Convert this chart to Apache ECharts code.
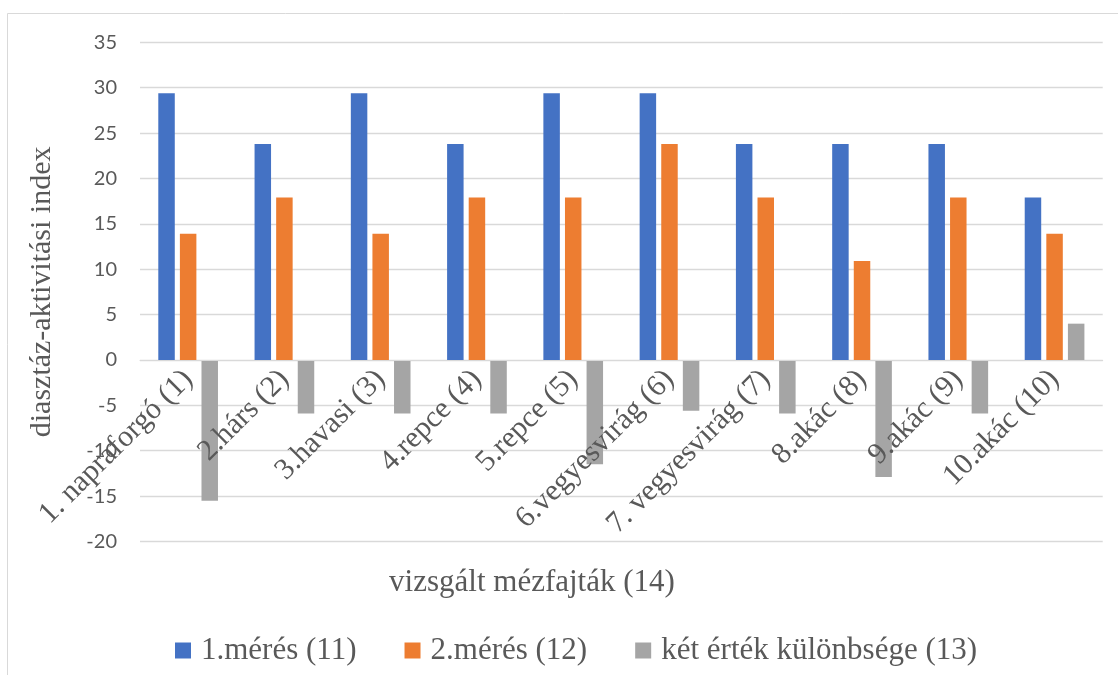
<!DOCTYPE html>
<html>
<head>
<meta charset="utf-8">
<script src="https://cdn.jsdelivr.net/npm/echarts@6/dist/echarts.min.js"></script>
<style>
  html, body { margin: 0; padding: 0; background: #ffffff; }
  #chart { width: 1118px; height: 675px; }
</style>
</head>
<body>
<div id="chart"></div>
<script>
// Honey samples examined
const categories = [
  '1. napraforgó (1)', '2.hárs (2)', '3.havasi (3)', '4.repce (4)', '5.repce (5)',
  '6.vegyesvirág (6)', '7. vegyesvirág (7)', '8.akác (8)', '9.akác (9)', '10.akác (10)'
];
// Diastase activity, first measurement
const meres1 = [29.4, 23.8, 29.4, 23.8, 29.4, 29.4, 23.8, 23.8, 23.8, 17.9];
// Diastase activity, second measurement
const meres2 = [13.9, 17.9, 13.9, 17.9, 17.9, 23.8, 17.9, 10.9, 17.9, 13.9];
// Difference between the two values
const kulonbseg = [-15.5, -5.9, -5.9, -5.9, -11.5, -5.6, -5.9, -12.9, -5.9, 4.0];

const seriesNames = ['1.mérés (11)', '2.mérés (12)', 'két érték különbsége (13)'];
const xAxisTitle = 'vizsgált mézfajták (14)';
const yAxisTitle = 'diasztáz-aktivitási index';

const textGray = '#595959';
const gridGray = '#d9d9d9';
const serif = '"Liberation Serif", "Times New Roman", serif';

// Plot area and value range
const CHART_H = 675;
const gridBox = { left: 140, right: 15.3, top: 42.3, bottom: 133.5 };
const yMin = -20, yMax = 35, yStep = 5;
// Category axis sits on the zero line, labels included
const plotH = CHART_H - gridBox.top - gridBox.bottom;
const zeroOffset = -(0 - yMin) / (yMax - yMin) * plotH;

const chart = echarts.init(document.getElementById('chart'), null, { renderer: 'canvas' });

chart.setOption({
  animation: false,
  backgroundColor: '#ffffff',
  color: ['#4472C4', '#ED7D31', '#A5A5A5'],
  graphic: [
    {
      type: 'rect',
      silent: true,
      shape: { x: 7.5, y: 13.5, width: 1300, height: 900 },
      style: { fill: 'none', stroke: gridGray, lineWidth: 1 }
    },
    {
      type: 'text',
      silent: true,
      x: 532,
      y: 583,
      style: {
        text: xAxisTitle,
        font: '31px ' + serif,
        fill: textGray,
        textAlign: 'center',
        textVerticalAlign: 'middle'
      }
    }
  ],
  grid: Object.assign({ outerBoundsMode: 'none', containLabel: false }, gridBox),
  legend: {
    data: seriesNames,
    left: 170,
    top: 630,
    icon: 'rect',
    itemWidth: 16,
    itemHeight: 16,
    itemGap: 48,
    textStyle: { fontFamily: serif, fontSize: 31, color: textGray, padding: [0, 0, 0, 5] }
  },
  xAxis: {
    type: 'category',
    data: categories,
    z: 10,
    position: 'bottom',
    offset: zeroOffset,
    axisLine: { onZero: false, lineStyle: { color: gridGray, width: 1 } },
    axisTick: { show: false },
    axisLabel: {
      rotate: 45,
      interval: 0,
      margin: 15,
      fontFamily: serif,
      fontSize: 30,
      color: textGray
    },
    splitLine: { show: false }
  },
  yAxis: {
    type: 'value',
    min: yMin,
    max: yMax,
    interval: yStep,
    name: yAxisTitle,
    nameLocation: 'middle',
    nameGap: 83,
    nameTextStyle: { fontFamily: serif, fontSize: 30, color: textGray },
    axisLine: { show: false },
    axisTick: { show: false },
    axisLabel: {
      margin: 23,
      fontFamily: 'Lato, "Liberation Sans", sans-serif',
      fontSize: 20,
      color: textGray
    },
    splitLine: { lineStyle: { color: gridGray, width: 1.3 } }
  },
  series: [
    { name: seriesNames[0], type: 'bar', data: meres1, barGap: '31%', barCategoryGap: '38%' },
    { name: seriesNames[1], type: 'bar', data: meres2, barGap: '31%', barCategoryGap: '38%' },
    { name: seriesNames[2], type: 'bar', data: kulonbseg, barGap: '31%', barCategoryGap: '38%' }
  ]
});
</script>
</body>
</html>
